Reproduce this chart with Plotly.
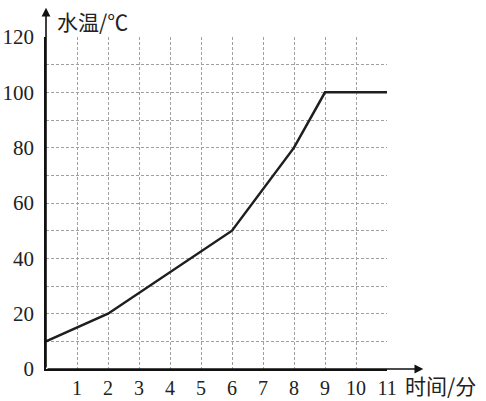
import plotly.graph_objects as go

# 数据
minutes = [0, 2, 6, 8, 9, 11]
water_temp = [10, 20, 50, 80, 100, 100]

x_ticks = [1, 2, 3, 4, 5, 6, 7, 8, 9, 10, 11]
y_ticks = [0, 20, 40, 60, 80, 100, 120]

num_font = "Liberation Serif"
cjk_font = "Noto Sans CJK SC"

fig = go.Figure()

fig.add_trace(go.Scatter(
    x=minutes, y=water_temp,
    mode='lines',
    line=dict(color='#1e1e1e', width=2.5),
    cliponaxis=False,
    hoverinfo='skip'
))

grid = dict(showgrid=True, gridcolor='#a0a0a0', gridwidth=1, griddash='3px,2px')

fig.update_xaxes(
    range=[0, 11], tickvals=x_ticks, ticks='', automargin=False,
    showline=True, linecolor='#111', linewidth=1.8, zeroline=False,
    tickfont=dict(family=num_font, size=20, color='#222'),
    **grid
)
fig.update_yaxes(
    range=[0, 120], tickvals=y_ticks, ticks='', ticklabelstandoff=6, automargin=False,
    showline=True, linecolor='#111', linewidth=1.8, zeroline=False,
    tickfont=dict(family=num_font, size=21, color='#222'),
    minor=dict(dtick=10, showgrid=True, gridcolor='#a0a0a0', gridwidth=1, griddash='3px,2px'),
    **grid
)

# 坐标轴箭头
fig.add_annotation(x=12.17, y=0, ax=0, ay=0, axref='x', ayref='y', xref='x', yref='y',
                   text='', showarrow=True, arrowhead=2, arrowsize=1.1, arrowwidth=1.6,
                   arrowcolor='#111')
fig.add_annotation(x=0, y=130.6, ax=0, ay=0, axref='x', ayref='y', xref='x', yref='y',
                   text='', showarrow=True, arrowhead=2, arrowsize=1.1, arrowwidth=1.6,
                   arrowcolor='#111')

# 轴标题
fig.add_annotation(x=0.027, y=1.049, xref='paper', yref='paper', xanchor='left', yanchor='middle',
                   text='水温/℃', showarrow=False,
                   font=dict(family=cjk_font, size=21, color='#222'))
fig.add_annotation(x=1.047, y=-0.048, xref='paper', yref='paper', xanchor='left', yanchor='middle',
                   text='时间/分', showarrow=False,
                   font=dict(family=cjk_font, size=21, color='#222'))

fig.update_layout(
    width=486, height=401,
    margin=dict(l=46, r=99, t=37, b=32),
    plot_bgcolor='white', paper_bgcolor='white',
    showlegend=False
)

# 去掉页面默认的8px边距, 隐藏工具栏
fig.write_html("out.html", config={'displayModeBar': False},
               post_script="document.body.style.margin='0';")
